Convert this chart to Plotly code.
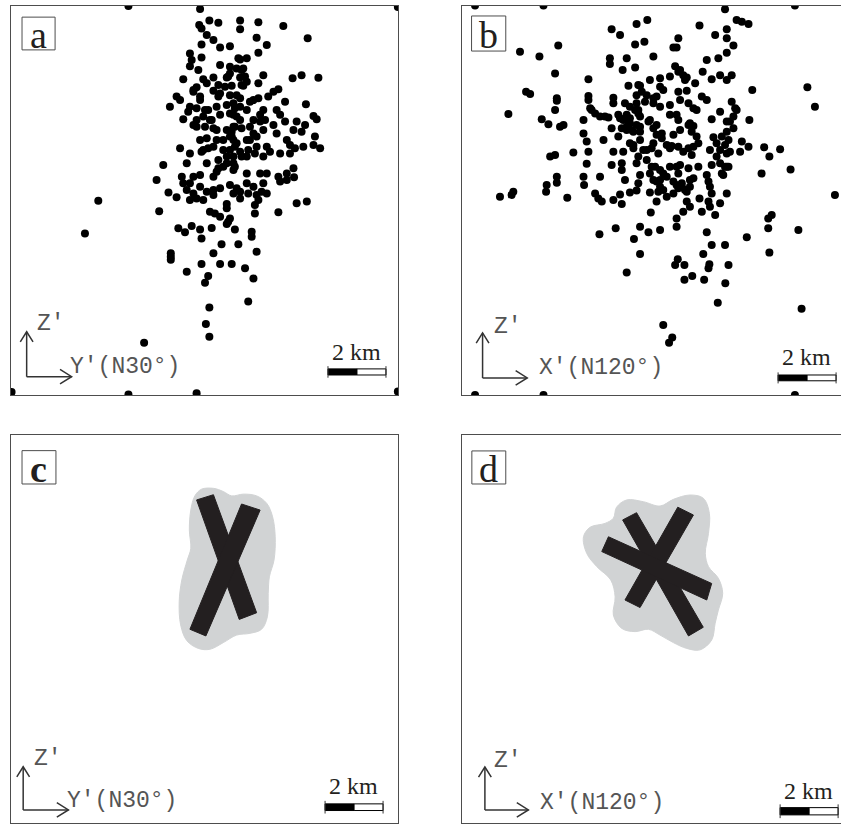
import plotly.graph_objects as go

# ---------------------------------------------------------------------------
# Hypocentres, km measured from the lower-left corner of each section frame
# Panel a: section along Y' (N30°) vs Z'
a_pts = [
    (6.52, 13.31), (6.49, 12.76), (6.84, 12.91), (7.15, 12.84), (7.90, 12.91), (8.53, 12.85), (9.39, 12.72),
    (6.57, 12.64), (6.75, 12.41), (6.98, 12.24), (7.90, 12.61), (8.47, 12.32), (10.23, 12.30), (6.57, 12.09),
    (7.21, 11.98), (7.55, 12.03), (8.82, 12.07), (6.17, 11.78), (6.57, 11.64), (6.23, 11.55), (7.21, 11.38),
    (7.90, 11.57), (8.13, 11.61), (8.53, 11.80), (6.17, 11.34), (6.46, 11.21), (7.78, 11.26), (7.95, 11.21),
    (7.55, 11.09), (8.70, 11.03), (5.94, 10.89), (6.63, 10.89), (6.98, 10.95), (7.44, 10.95), (7.90, 10.95),
    (8.07, 10.98), (8.53, 10.75), (9.71, 10.92), (10.02, 11.03), (10.60, 10.94), (6.40, 10.61), (6.75, 10.75),
    (7.15, 10.69), (7.61, 10.66), (8.01, 10.66), (9.05, 10.46), (9.22, 10.54), (5.71, 10.29), (5.48, 9.94),
    (5.83, 10.17), (6.29, 10.46), (6.52, 10.29), (6.98, 10.49), (7.15, 10.29), (7.55, 10.34), (7.90, 10.23),
    (8.36, 10.17), (8.53, 10.23), (8.87, 10.29), (9.45, 10.11), (10.17, 10.03), (6.11, 9.77), (6.40, 9.89),
    (6.80, 9.83), (7.09, 9.94), (7.44, 10.00), (7.72, 9.89), (8.13, 9.83), (8.70, 9.83), (9.16, 9.83),
    (5.94, 9.51), (6.29, 9.31), (6.63, 9.60), (6.92, 9.48), (7.21, 9.66), (7.67, 9.66), (7.90, 9.48),
    (8.36, 9.48), (8.76, 9.48), (9.05, 9.31), (9.28, 9.66), (9.45, 9.43), (9.85, 9.43), (10.14, 9.31),
    (10.43, 9.62), (10.54, 9.51), (6.69, 9.25), (6.98, 9.20), (7.44, 9.14), (7.72, 9.25), (7.95, 9.20),
    (8.36, 9.02), (8.70, 9.14), (9.16, 9.02), (9.74, 9.14), (10.02, 9.08), (6.52, 8.79), (6.75, 8.85),
    (7.09, 8.79), (7.55, 8.91), (7.67, 8.79), (8.24, 8.79), (8.47, 8.91), (9.51, 8.79), (10.48, 8.91),
    (5.83, 8.51), (6.17, 8.33), (6.57, 8.39), (6.98, 8.56), (7.32, 8.45), (7.72, 8.56), (7.90, 8.39),
    (8.18, 8.45), (8.47, 8.56), (8.82, 8.56), (9.28, 8.33), (9.62, 8.62), (9.79, 8.51), (10.08, 8.56),
    (10.66, 8.51), (10.43, 8.62), (6.06, 7.99), (6.75, 7.99), (7.15, 8.10), (7.44, 8.22), (7.67, 7.99),
    (8.13, 8.22), (8.41, 8.33), (8.70, 8.22), (8.93, 8.39), (9.62, 8.33), (5.25, 7.93), (7.15, 7.82),
    (7.32, 7.87), (7.67, 7.76), (9.74, 7.82), (9.51, 7.64), (5.02, 7.41), (5.89, 7.53), (6.17, 7.30),
    (6.52, 7.59), (6.98, 7.53), (7.09, 7.70), (8.13, 7.64), (8.59, 7.64), (8.82, 7.64), (9.28, 7.36),
    (9.51, 7.41), (5.43, 6.98), (5.71, 6.82), (6.06, 7.07), (6.29, 6.95), (6.52, 7.18), (6.75, 7.01),
    (6.98, 7.07), (7.21, 7.13), (7.55, 7.24), (7.78, 7.13), (8.13, 7.30), (8.36, 7.18), (8.70, 7.30),
    (8.82, 6.95), (6.17, 6.72), (6.40, 6.78), (6.63, 6.72), (6.98, 6.90), (7.90, 7.01), (8.18, 6.95),
    (8.47, 6.90), (8.53, 6.72), (7.90, 6.78), (3.01, 6.70), (9.85, 6.61), (10.20, 6.67), (7.44, 6.59),
    (7.44, 6.44), (8.41, 6.55), (5.11, 6.34), (6.86, 6.32), (7.21, 6.15), (7.55, 6.09), (8.41, 6.26),
    (9.22, 6.30), (5.77, 5.75), (6.00, 5.61), (6.23, 5.83), (6.52, 5.71), (6.92, 5.76), (7.44, 5.90),
    (7.72, 5.71), (8.30, 5.63), (8.30, 5.46), (2.55, 5.57), (6.57, 5.40), (7.26, 5.20), (7.84, 5.20),
    (5.51, 4.89), (5.51, 4.77), (5.51, 4.66), (6.98, 4.89), (8.47, 4.94), (6.06, 4.25), (6.57, 4.52),
    (7.21, 4.52), (7.61, 4.52), (8.07, 4.37), (6.80, 4.10), (6.69, 3.87), (8.36, 4.02), (8.18, 3.22),
    (6.84, 3.02), (6.72, 2.45), (6.84, 2.01), (4.59, 1.80),
    (7.84, 11.61), (7.55, 11.32), (8.01, 11.26), (7.49, 10.98), (8.13, 10.80), (7.38, 10.63), (7.95, 10.69),
    (7.21, 10.40), (7.78, 10.34), (7.67, 10.06), (7.90, 9.94), (7.55, 9.71), (7.78, 9.60), (7.67, 9.25),
    (7.61, 9.08), (7.61, 8.91), (7.78, 8.68), (7.55, 8.45), (7.67, 8.22), (7.44, 7.99), (7.72, 7.87),
    (6.29, 10.52), (6.52, 10.17), (6.69, 9.83), (6.86, 9.48), (7.09, 9.14), (7.32, 8.79), (6.17, 9.94),
    (6.40, 9.48), (6.40, 9.25), (6.80, 8.51), (6.63, 8.45), (8.24, 10.11), (8.59, 9.66), (8.24, 9.25),
    (8.59, 9.43), (8.13, 8.79), (7.95, 8.22), (7.03, 6.26), (7.49, 5.97), (6.29, 7.53), (9.76, 7.51),
    (9.22, 7.53), (7.67, 6.95), (8.64, 7.01), (5.94, 7.30),
]
# events plotted on the frame edge of section a
a_edge = [(4.05, 13.41), (13.34, 13.38), (0.02, 0.10), (4.05, 0.02), (6.40, 0.06), (13.34, 0.12)]

# Panel b: section along X' (N120°) vs Z'
b_pts = [
    (5.17, 12.61), (5.46, 12.41), (6.03, 12.79), (6.40, 12.93), (8.20, 12.74), (8.74, 12.41), (9.14, 12.61),
    (9.48, 12.93), (9.66, 12.87), (9.89, 12.79), (9.08, 13.30),
    (2.01, 11.84), (2.68, 11.67), (3.33, 12.05), (5.98, 12.09), (6.30, 12.18), (7.30, 11.98), (7.41, 11.98),
    (7.47, 12.30), (9.14, 12.30), (9.37, 12.05),
    (5.11, 11.61), (5.11, 11.41), (5.69, 11.61), (5.55, 11.21), (5.98, 11.29), (6.61, 11.67), (8.45, 11.55),
    (8.85, 11.61), (9.14, 11.80),
    (3.22, 11.09), (4.37, 10.89), (7.36, 11.34), (7.53, 11.21), (8.31, 11.15), (8.62, 10.89), (8.91, 11.03),
    (9.14, 10.86), (9.31, 11.03),
    (2.22, 10.46), (2.36, 10.38), (3.28, 10.23), (3.28, 10.15), (4.37, 10.31), (4.37, 10.17), (5.23, 10.25),
    (5.75, 10.66), (6.15, 10.66), (6.21, 10.46), (6.49, 10.86), (6.84, 10.92), (7.18, 10.98), (7.76, 10.95),
    (8.05, 10.75), (7.76, 10.49), (7.47, 10.46), (6.95, 10.52), (6.72, 10.29), (6.38, 10.34), (10.02, 10.52),
    (11.92, 10.61),
    (1.61, 9.69), (3.22, 9.83), (4.48, 9.83), (4.77, 9.60), (5.06, 9.57), (5.23, 10.06), (5.63, 10.06),
    (5.80, 9.94), (6.03, 10.06), (6.32, 10.11), (6.61, 10.06), (6.84, 9.94), (7.18, 10.00), (7.53, 10.17),
    (7.82, 10.06), (8.28, 10.29), (8.45, 10.17), (8.91, 9.77), (9.31, 10.11), (9.48, 9.83), (12.18, 9.94),
    (2.76, 9.51), (2.99, 9.34), (3.39, 9.25), (3.51, 9.31), (4.20, 9.48), (5.46, 9.54), (5.69, 9.66),
    (5.80, 9.37), (6.15, 9.60), (6.09, 9.83), (6.49, 9.48), (6.72, 9.31), (7.18, 9.66), (7.41, 9.66),
    (7.47, 9.48), (7.87, 9.37), (7.99, 9.89), (8.10, 9.83), (8.62, 9.51), (9.14, 9.43), (9.37, 9.60),
    (9.92, 9.48),
    (4.20, 9.02), (4.89, 8.79), (5.17, 9.20), (5.40, 8.91), (5.69, 9.14), (5.92, 9.08), (6.15, 9.25),
    (6.61, 9.20), (6.90, 9.02), (7.30, 8.97), (7.53, 9.14), (7.99, 9.28), (8.10, 8.91), (8.68, 8.89),
    (8.97, 8.91), (9.14, 9.08), (9.37, 9.20), (9.66, 8.74),
    (4.31, 8.74), (4.37, 8.39), (5.23, 8.39), (5.57, 8.39), (5.80, 8.68), (5.92, 8.51), (6.15, 8.79),
    (6.26, 8.45), (6.61, 8.68), (6.78, 8.33), (7.18, 8.51), (7.47, 8.56), (7.64, 8.39), (7.93, 8.28),
    (8.16, 8.68), (8.56, 8.45), (8.79, 8.22), (9.14, 8.33), (9.60, 8.39), (9.89, 8.56), (10.43, 8.54),
    (10.61, 8.22), (10.98, 8.47),
    (3.05, 8.22), (3.22, 8.28), (3.85, 8.36), (4.31, 7.97), (5.17, 7.93), (5.52, 7.99), (5.52, 7.76),
    (6.03, 7.99), (6.09, 8.22), (6.38, 8.10), (6.55, 7.87), (6.84, 7.76), (7.18, 7.87), (7.41, 7.87),
    (7.47, 7.64), (7.82, 7.82), (8.16, 7.87), (8.62, 7.93), (8.91, 7.99), (9.14, 7.87), (10.34, 7.64),
    (11.34, 7.78),
    (3.28, 7.53), (3.28, 7.32), (2.93, 7.24), (2.91, 7.01), (4.20, 7.53), (4.22, 7.24), (4.77, 7.53),
    (5.63, 7.41), (6.15, 7.59), (6.49, 7.64), (6.72, 7.36), (6.84, 7.18), (7.07, 7.53), (7.30, 7.36),
    (7.41, 7.24), (7.59, 7.18), (7.87, 7.41), (7.99, 7.47), (8.45, 7.59), (8.51, 7.36), (8.97, 7.64),
    (9.08, 7.87),
    (1.32, 6.84), (1.72, 6.90), (1.78, 7.01), (3.64, 6.80), (4.60, 6.95), (4.71, 6.78), (4.83, 6.67),
    (5.23, 6.72), (5.52, 6.59), (5.46, 6.91), (5.80, 6.98), (6.03, 7.05), (6.49, 6.98), (6.78, 7.01),
    (7.07, 6.84), (7.30, 6.95), (7.47, 7.13), (7.76, 7.01), (8.56, 7.18), (8.62, 6.95), (9.14, 6.95),
    (12.87, 6.90),
    (6.72, 6.67), (7.76, 6.67), (7.87, 6.49), (8.20, 6.78), (8.28, 6.32), (8.51, 6.67), (8.56, 6.49),
    (8.74, 6.21), (8.91, 6.61), (6.52, 6.29), (7.64, 6.32),
    (7.41, 6.09), (10.57, 6.09), (10.69, 6.21), (10.57, 5.75), (11.61, 5.69), (9.83, 5.44),
    (4.75, 5.54), (5.31, 5.75), (5.94, 5.38), (6.15, 5.80), (6.44, 5.61), (6.84, 5.69), (7.41, 5.80),
    (8.45, 5.61),
    (6.15, 4.86), (7.45, 4.68), (7.36, 4.48), (7.68, 4.48), (8.33, 4.86), (8.62, 5.17), (9.08, 5.17),
    (10.61, 4.91),
    (5.69, 4.22), (8.54, 4.51), (8.51, 4.37), (9.20, 4.48), (7.68, 3.97), (7.95, 4.10), (8.36, 3.97),
    (9.09, 3.85),
    (8.83, 3.18), (11.72, 2.97), (6.95, 2.41), (7.26, 1.98), (7.15, 1.80),
    (5.40, 9.66), (5.57, 9.48), (5.69, 9.25), (5.86, 9.14), (6.03, 9.31), (6.15, 9.08), (5.52, 9.20),
    (5.80, 9.54), (6.09, 9.71), (5.98, 9.83), (4.43, 9.89), (4.60, 9.71), (4.94, 9.60), (7.47, 11.15),
    (7.64, 11.03), (7.70, 10.86), (6.84, 10.63), (6.61, 10.23), (6.09, 10.69), (6.03, 10.34), (6.44, 9.43),
    (6.72, 8.97), (6.90, 8.85), (7.07, 8.62), (7.82, 9.31), (7.93, 9.08), (5.92, 8.62), (6.38, 8.45),
    (6.55, 8.51), (7.24, 8.59), (7.82, 8.51), (7.99, 8.56), (8.79, 8.68), (8.91, 8.45), (9.08, 8.62),
    (9.20, 8.79), (9.25, 8.39), (9.43, 9.89), (9.25, 9.43), (6.09, 7.30), (6.61, 7.41), (6.67, 7.87),
    (6.95, 7.64), (6.95, 7.07), (6.84, 7.41), (7.59, 7.30), (7.70, 7.07), (7.87, 7.18), (9.20, 7.87),
    (9.02, 7.59), (7.53, 7.93),
]
b_edge = [(0.46, 13.43), (2.82, 13.43), (11.49, 13.43), (0.46, 0.0), (2.82, 0.0), (11.49, 0.0)]

# ---------------------------------------------------------------------------
# Panels c and d: shaded envelope of seismicity and the interpreted fault planes
c_halo = [
    (6.57, 11.51), (6.98, 11.54), (7.32, 11.43), (7.61, 11.28), (8.01, 11.34), (8.47, 11.28), (8.82, 11.02),
    (9.02, 10.56), (9.11, 9.87), (9.07, 9.07), (8.91, 8.49), (8.87, 7.92), (8.84, 7.11), (8.64, 6.68),
    (8.24, 6.54), (7.78, 6.48), (7.32, 6.22), (6.86, 5.99), (6.46, 6.02), (6.06, 6.29), (5.85, 6.83),
    (5.80, 7.63), (5.89, 8.38), (6.08, 9.07), (6.20, 9.47), (6.15, 10.10), (6.20, 10.79), (6.34, 11.28),
    (6.57, 11.51),
]
c_fault1 = [(6.40, 11.14), (6.98, 11.32), (8.47, 7.25), (7.87, 7.02)]
c_fault2 = [(7.95, 11.00), (8.59, 10.79), (6.72, 6.45), (6.17, 6.68)]

d_halo = [
    (4.20, 9.87), (4.43, 10.20), (4.94, 10.33), (5.23, 10.51), (5.34, 10.89), (5.69, 11.14), (6.26, 11.08),
    (6.84, 10.93), (7.30, 11.16), (7.87, 11.31), (8.33, 11.20), (8.54, 10.68), (8.51, 9.99), (8.40, 9.30),
    (8.51, 8.84), (8.85, 8.44), (9.00, 7.92), (8.85, 7.34), (8.74, 6.89), (8.62, 6.31), (8.22, 5.97),
    (7.76, 6.02), (7.30, 6.22), (6.84, 6.48), (6.44, 6.68), (5.98, 6.60), (5.52, 6.71), (5.23, 7.17),
    (5.29, 7.80), (5.14, 8.38), (4.66, 8.84), (4.31, 9.30), (4.20, 9.87),
]
d_fault1 = [(5.55, 10.45), (6.03, 10.70), (8.33, 6.75), (7.82, 6.45)]
d_fault2 = [(7.45, 10.89), (7.99, 10.62), (6.15, 7.43), (5.63, 7.69)]
d_fault3 = [(5.06, 9.87), (4.83, 9.36), (8.45, 7.69), (8.62, 8.26)]

panel_letters = ["a", "b", "c", "d"]
section_axes = ["Y'(N30°)", "X'(N120°)", "Y'(N30°)", "X'(N120°)"]
scale_km = 2

# ---------------------------------------------------------------------------
W, H = 841, 824
KM = 29.0  # pixels per km in every section

FRAME = "#4d4d4d"
INK = "#231f20"
HALO = "#d1d3d4"

# frame of each section in page pixels: left, top, right, bottom
frames = [
    (11.0, 6.0, 398.0, 395.0),
    (461.7, 5.7, 841.0, 395.0),
    (11.0, 435.0, 398.0, 823.0),
    (461.7, 435.0, 841.0, 823.0),
]
closed_right = [True, False, True, False]
letter_weight = ["normal", "normal", "bold", "normal"]

# layout of the decorations in km inside each frame
letter_box = [(0.38, 11.90, 1.52, 13.03), (0.34, 11.86, 1.52, 13.07),
              (0.38, 11.69, 1.55, 12.84), (0.35, 11.69, 1.52, 12.83)]
triad = [(0.54, 0.63, 2.18, 2.09), (0.72, 0.59, 2.14, 2.26),
         (0.42, 0.45, 1.94, 1.98), (0.80, 0.45, 1.93, 2.30)]
z_label = [(0.83, 2.45), (1.03, 2.33), (0.71, 2.19), (1.03, 2.14)]
h_label = [(1.97, 0.98), (2.59, 0.93), (1.86, 0.77), (2.63, 0.69)]
scale_bar = [(10.93, 0.69, 0.90), (10.91, 0.49, 0.69), (10.83, 0.43, 0.66), (10.98, 0.28, 0.53)]
scale_text = [(11.9, 1.48), (11.9, 1.31), (11.8, 1.28), (11.95, 1.10)]

fig = go.Figure()

axis_ids = ["", "2", "3", "4"]


def refs(i):
    return "x" + axis_ids[i], "y" + axis_ids[i]


def dots(pts, i, size=8):
    xr, yr = refs(i)
    fig.add_trace(go.Scatter(
        x=[p[0] for p in pts], y=[p[1] for p in pts], mode="markers",
        marker=dict(size=size, color="black", line=dict(width=0)),
        xaxis=xr, yaxis=yr, hoverinfo="skip", showlegend=False, cliponaxis=True))


def patch(pts, i, color, smooth=False):
    xr, yr = refs(i)
    xs = [p[0] for p in pts]
    ys = [p[1] for p in pts]
    if not smooth:
        xs.append(xs[0])
        ys.append(ys[0])
    fig.add_trace(go.Scatter(
        x=xs, y=ys, mode="lines", fill="toself", fillcolor=color,
        line=dict(color=color, width=1, shape="spline" if smooth else "linear", smoothing=1.0),
        xaxis=xr, yaxis=yr, hoverinfo="skip", showlegend=False))


dots(a_pts, 0)
dots(a_edge, 0)
dots(b_pts, 1)
dots(b_edge, 1)

patch(c_halo, 2, HALO, smooth=True)
patch(c_fault1, 2, INK)
patch(c_fault2, 2, INK)
patch(d_halo, 3, HALO, smooth=True)
patch(d_fault1, 3, INK)
patch(d_fault2, 3, INK)
patch(d_fault3, 3, INK)

layout = dict(width=W, height=H, margin=dict(l=0, r=0, t=0, b=0),
              paper_bgcolor="white", plot_bgcolor="white", showlegend=False)
shapes = []
annotations = []

for i, (l, t, r, b) in enumerate(frames):
    xr, yr = refs(i)
    common = dict(showgrid=False, zeroline=False, showticklabels=False, ticks="",
                  showline=True, linecolor=FRAME, linewidth=1, fixedrange=True)
    layout["xaxis" + axis_ids[i]] = dict(
        domain=[l / W, r / W], range=[0, (r - l) / KM], anchor=yr, mirror=True, **common)
    layout["yaxis" + axis_ids[i]] = dict(
        domain=[1 - b / H, 1 - t / H], range=[0, (b - t) / KM], anchor=xr,
        mirror=closed_right[i], **common)

    # panel letter in its box
    x0, y0, x1, y1 = letter_box[i]
    shapes.append(dict(type="rect", xref=xr, yref=yr, x0=x0, y0=y0, x1=x1, y1=y1,
                       line=dict(color=FRAME, width=1), fillcolor="white", layer="above"))
    annotations.append(dict(xref=xr, yref=yr, x=(x0 + x1) / 2, y=(y0 + y1) / 2 - 0.05,
                            text=panel_letters[i], showarrow=False, xanchor="center", yanchor="middle",
                            font=dict(family="Liberation Serif", size=38, color=INK,
                                      weight=letter_weight[i])))

    # axis triad
    ox, oy, top, right = triad[i]
    arrow = dict(color="#333333", width=1.5)
    shapes.append(dict(type="line", xref=xr, yref=yr, x0=ox, y0=oy, x1=ox, y1=top, line=arrow))
    shapes.append(dict(type="line", xref=xr, yref=yr, x0=ox, y0=oy, x1=right, y1=oy, line=arrow))
    shapes.append(dict(type="path", xref=xr, yref=yr, line=arrow,
                       path=f"M {ox - 0.22} {top - 0.35} L {ox} {top} L {ox + 0.22} {top - 0.35}"))
    shapes.append(dict(type="path", xref=xr, yref=yr, line=arrow,
                       path=f"M {right - 0.40} {oy + 0.25} L {right} {oy} L {right - 0.40} {oy - 0.25}"))
    mono = dict(family="Liberation Mono", size=23, color="#555555")
    zx, zy = z_label[i]
    annotations.append(dict(xref=xr, yref=yr, x=zx, y=zy, text="Z'", showarrow=False,
                            xanchor="left", yanchor="middle", font=mono))
    hx, hy = h_label[i]
    annotations.append(dict(xref=xr, yref=yr, x=hx, y=hy, text=section_axes[i], showarrow=False,
                            xanchor="left", yanchor="middle", font=mono))

    # 2 km scale bar: black half, open half, end ticks
    sx, sy0, sy1 = scale_bar[i]
    half = scale_km / 2
    tick = (sy1 - sy0) * 0.45
    shapes.append(dict(type="rect", xref=xr, yref=yr, x0=sx, x1=sx + half, y0=sy0, y1=sy1,
                       fillcolor="black", line=dict(color="black", width=1)))
    shapes.append(dict(type="rect", xref=xr, yref=yr, x0=sx + half, x1=sx + scale_km, y0=sy0, y1=sy1,
                       fillcolor="white", line=dict(color="black", width=1)))
    for ex in (sx, sx + scale_km):
        shapes.append(dict(type="line", xref=xr, yref=yr, x0=ex, x1=ex, y0=sy0 - tick, y1=sy1 + tick,
                           line=dict(color="#333333", width=1)))
    tx, ty = scale_text[i]
    annotations.append(dict(xref=xr, yref=yr, x=tx, y=ty, text=f"{scale_km} km", showarrow=False,
                            xanchor="center", yanchor="middle",
                            font=dict(family="Liberation Serif", size=24, color=INK)))

layout["shapes"] = shapes
layout["annotations"] = annotations
fig.update_layout(**layout)
fig.write_html("out.html")
